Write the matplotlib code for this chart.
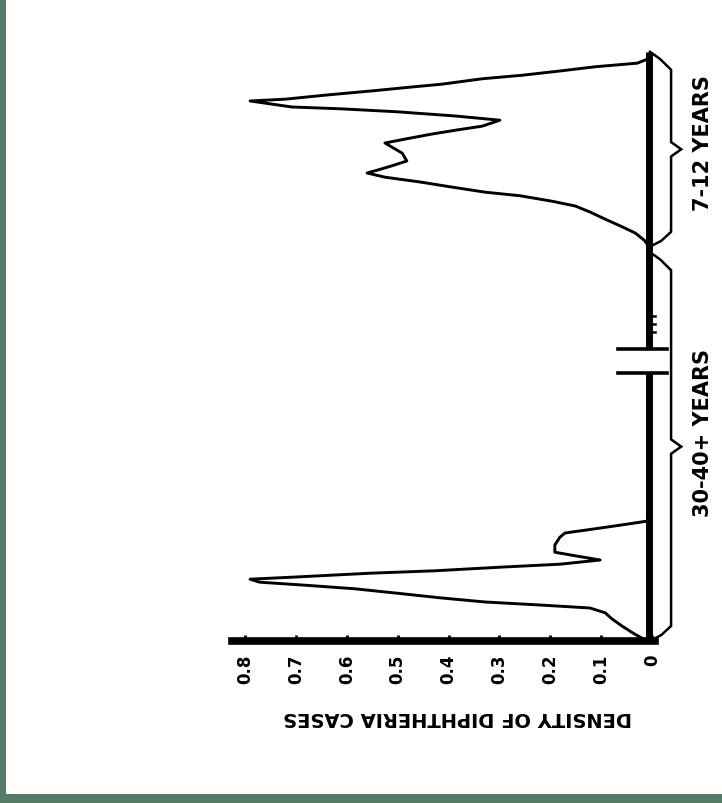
import matplotlib
matplotlib.use('Agg')
import matplotlib.pyplot as plt
import matplotlib.transforms as mtransforms
from matplotlib.patches import Rectangle

# density ticks (x runs right-to-left, 0 at the baseline)
tick_values = [0, 0.1, 0.2, 0.3, 0.4, 0.5, 0.6, 0.7, 0.8]
tick_labels = ['0', '0.1', '0.2', '0.3', '0.4', '0.5', '0.6', '0.7', '0.8']

# 7-12 years curve: density, position along the age scale
young_density = [0.008, 0.029, 0.112, 0.181, 0.254, 0.334, 0.413, 0.476, 0.548,
                 0.639, 0.721, 0.790, 0.708, 0.613, 0.501, 0.387, 0.299, 0.334,
                 0.381, 0.432, 0.476, 0.525, 0.511, 0.491, 0.482, 0.511, 0.539,
                 0.560, 0.525, 0.456, 0.397, 0.328, 0.259, 0.197, 0.151, 0.122,
                 0.092, 0.063, 0.033, 0.014, 0.006]
young_pos = [97.0, 96.3, 95.7, 95.0, 94.3, 93.7, 92.8, 92.3, 91.7,
             91.0, 90.3, 90.0, 89.0, 88.7, 88.2, 87.5, 86.8, 85.8,
             85.2, 84.5, 83.8, 83.0, 82.3, 81.3, 80.0, 79.2, 78.5,
             78.0, 77.3, 76.5, 75.7, 74.8, 74.2, 73.3, 72.5, 71.5,
             70.3, 69.2, 68.0, 66.7, 65.7]

# 30-40+ years curve
old_density = [0.008, 0.063, 0.112, 0.171, 0.181, 0.191, 0.191, 0.151, 0.102,
               0.181, 0.299, 0.427, 0.554, 0.692, 0.790, 0.771, 0.682, 0.584,
               0.505, 0.417, 0.328, 0.220, 0.122, 0.092, 0.079, 0.059, 0.037,
               0.014]
old_pos = [20.0, 19.3, 18.7, 18.0, 17.3, 16.0, 14.8, 14.2, 13.5,
           12.8, 12.3, 11.7, 11.3, 10.7, 10.3, 9.8, 9.3, 8.7,
           8.0, 7.2, 6.5, 6.0, 5.5, 4.7, 3.7, 2.5, 1.3,
           0.2]

# age groups marked with braces on the right
group_labels = ['7-12 YEARS', '30-40+ YEARS']
group_spans = [(65.7, 98.2), (0.0, 64.8)]
group_label_pos = [83.2, 34.8]

# baseline pieces (break in the middle)
baseline_spans = [(48.7, 98.2), (0.0, 44.7)]
break_marks = [48.7, 44.7]
hatch_marks = [54.2, 52.8, 51.5]

border = '#557a66'


def draw_brace(ax, lo, hi, label, label_y):
    tr = mtransforms.blended_transform_factory(ax.transAxes, ax.transData)
    mid = (lo + hi) / 2
    xs = [0.988, 1.012, 1.038, 1.038, 1.062, 1.038, 1.038, 1.015, 0.988]
    ys = [hi, hi - 1.2, hi - 3.0, mid + 1.2, mid, mid - 1.2, lo + 2.5, lo + 1.0, lo]
    ax.plot(xs, ys, color='black', lw=1.8, transform=tr, clip_on=False,
            solid_joinstyle='miter')
    ax.text(1.113, label_y, label, transform=tr, rotation=90, ha='center',
            va='center', fontsize=15, fontweight='bold', color='black')


def main():
    fig = plt.figure(figsize=(7.22, 8.04), dpi=100)
    fig.patch.set_facecolor(border)
    fig.patches.append(Rectangle((5.5 / 722, 9 / 804), 1, 1,
                                 transform=fig.transFigure,
                                 facecolor='white', edgecolor='none', zorder=-10))

    ax = fig.add_axes([232 / 722, (804 - 642) / 804, 423 / 722, 602 / 804])
    ax.set_facecolor('none')
    ax.set_xlim(0.8256, -0.0059)
    ax.set_ylim(0, 100.33)

    for s in ['top', 'right', 'left']:
        ax.spines[s].set_visible(False)
    ax.spines['bottom'].set_linewidth(5.5)
    ax.set_yticks([])
    ax.set_xticks(tick_values)
    ax.set_xticklabels(tick_labels, rotation=90, fontsize=12,
                       fontweight='bold', va='top')
    ax.tick_params(axis='x', direction='in', length=4, width=2, pad=9)

    ax.plot(young_density, young_pos, color='black', lw=2.1)
    ax.plot(old_density, old_pos, color='black', lw=2.1)

    for lo, hi in baseline_spans:
        ax.plot([0.006, 0.006], [lo, hi], color='black', lw=5, clip_on=False,
                solid_capstyle='butt')
    for v in break_marks:
        ax.plot([0.066, -0.029], [v, v], color='black', lw=2.6, clip_on=False)
    for v in hatch_marks:
        ax.plot([0.008, -0.006], [v, v], color='black', lw=1.8, clip_on=False)

    for label, (lo, hi), ly in zip(group_labels, group_spans, group_label_pos):
        draw_brace(ax, lo, hi, label, ly)

    ax.text(0.534, -0.125, 'DENSITY OF DIPHTHERIA CASES', transform=ax.transAxes,
            rotation=180, ha='center', va='center', fontsize=14,
            fontweight='bold', color='black')

    fig.savefig('out.png', dpi=100, facecolor=fig.get_facecolor())


if __name__ == '__main__':
    main()
